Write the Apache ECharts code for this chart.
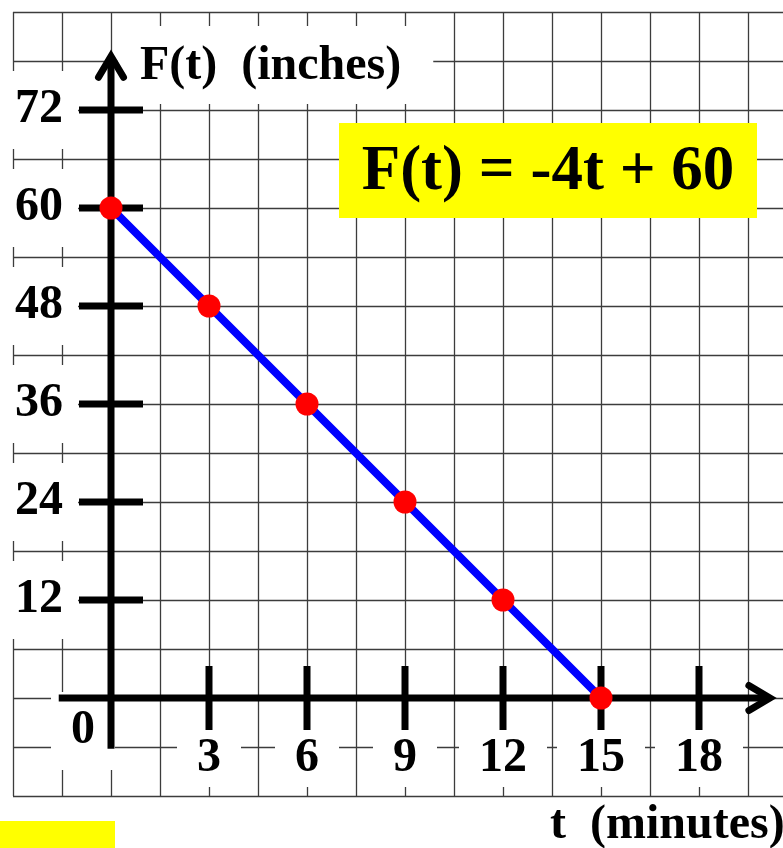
<!DOCTYPE html>
<html>
<head>
<meta charset="utf-8">
<script src="https://cdn.jsdelivr.net/npm/echarts@6/dist/echarts.min.js"></script>
<style>
  html, body { margin: 0; padding: 0; background: #fff; }
  #chart { width: 783px; height: 848px; }
</style>
</head>
<body>
<div id="chart"></div>
<script>
// Level F(t) = -4t + 60, sampled every 3 minutes
const tValues = [0, 3, 6, 9, 12, 15];
const fValues = [60, 48, 36, 24, 12, 0];

// Tick labels on each axis
const tTicks = [3, 6, 9, 12, 15, 18];
const fTicks = [12, 24, 36, 48, 60, 72];
const originLabel = '0';

// Titles
const tTitle = 't  (minutes)';
const fTitle = 'F(t)  (inches)';
const equation = 'F(t) = -4t + 60';

// Axis ranges: the graph paper extends past the drawn axes
const T_MIN = -3, T_MAX = 21, T_GRID = 1.5;
const F_MIN = -12, F_MAX = 84, F_GRID = 6;
// Where the drawn axis arrows start and end
const T_AXIS = [-1.6, 20.4];
const F_AXIS = [-6.2, 79.5];

// Plot area
const GRID = { left: 13, top: 12, width: 784, height: 784 };
// Shift the label axes from the plot edge onto the zero lines
const X_LABEL_SHIFT = -GRID.height * (0 - F_MIN) / (F_MAX - F_MIN);
const Y_LABEL_SHIFT = -GRID.width * (0 - T_MIN) / (T_MAX - T_MIN);

const SERIF = '"Liberation Serif", "Times New Roman", serif';
const FONT48 = 'bold 48px ' + SERIF;

const chart = echarts.init(document.getElementById('chart'), null, { renderer: 'canvas' });

const labelText = {
  color: '#000',
  fontFamily: SERIF,
  fontWeight: 'bold',
  fontSize: 48,
  lineHeight: 48,
  backgroundColor: '#fff'
};

const paperLine = { color: '#3c3c3c', width: 1.3 };

// Axes with arrowheads and cross ticks, laid out by the chart scales
function renderAxes(params, api) {
  const o = api.coord([0, 0]);
  const xl = api.coord([T_AXIS[0], 0]);
  const xr = api.coord([T_AXIS[1], 0]);
  const yb = api.coord([0, F_AXIS[0]]);
  const yt = api.coord([0, F_AXIS[1]]);
  const W = 7, HALF = 32, BACK = 21, SPREAD = 12.5, MITER = 7.5;
  const stroke = { stroke: '#000', lineWidth: W, fill: null, lineCap: 'butt' };
  const arm = { stroke: '#000', lineWidth: W, fill: null, lineCap: 'round', lineJoin: 'miter' };
  const kids = [];
  const xv = xr[0] - MITER;
  const yv = yt[1] + MITER;
  kids.push({ type: 'line', shape: { x1: xl[0], y1: o[1], x2: xv, y2: o[1] }, style: stroke });
  kids.push({ type: 'line', shape: { x1: o[0], y1: yb[1], x2: o[0], y2: yv }, style: stroke });
  kids.push({ type: 'polyline', shape: { points: [[xv - BACK, o[1] - SPREAD], [xv, o[1]], [xv - BACK, o[1] + SPREAD]] }, style: arm });
  kids.push({ type: 'polyline', shape: { points: [[o[0] - SPREAD, yv + BACK], [o[0], yv], [o[0] + SPREAD, yv + BACK]] }, style: arm });
  tTicks.forEach(function (t) {
    const p = api.coord([t, 0]);
    kids.push({ type: 'line', shape: { x1: p[0], y1: p[1] - HALF, x2: p[0], y2: p[1] + HALF }, style: stroke });
  });
  fTicks.forEach(function (f) {
    const p = api.coord([0, f]);
    kids.push({ type: 'line', shape: { x1: p[0] - HALF, y1: p[1], x2: p[0] + HALF, y2: p[1] }, style: stroke });
  });
  return { type: 'group', children: kids };
}

const option = {
  animation: false,
  backgroundColor: '#fff',
  grid: Object.assign({ containLabel: false, outerBoundsMode: 'none' }, GRID),
  xAxis: [
    {
      // graph paper, vertical lines
      type: 'value', position: 'top', min: T_MIN, max: T_MAX, interval: T_GRID, z: 0,
      axisLine: { show: false, onZero: false }, axisTick: { show: false }, axisLabel: { show: false },
      splitLine: { show: true, showMinLine: true, showMaxLine: true, lineStyle: paperLine }
    },
    {
      // t tick labels
      type: 'value', position: 'bottom', offset: X_LABEL_SHIFT,
      min: T_MIN, max: T_MAX, interval: 3, z: 2,
      axisLine: { show: false, onZero: false }, axisTick: { show: false },
      splitLine: { show: false },
      axisLabel: Object.assign({
        show: true, margin: 32, customValues: tTicks, padding: [5, 20, 4, 20]
      }, labelText)
    }
  ],
  yAxis: [
    {
      // graph paper, horizontal lines
      type: 'value', position: 'right', min: F_MIN, max: F_MAX, interval: F_GRID, z: 0,
      axisLine: { show: false, onZero: false }, axisTick: { show: false }, axisLabel: { show: false },
      splitLine: { show: true, showMinLine: true, showMaxLine: true, lineStyle: paperLine }
    },
    {
      // F(t) tick labels
      type: 'value', position: 'left', offset: Y_LABEL_SHIFT,
      min: F_MIN, max: F_MAX, interval: 12, z: 2,
      axisLine: { show: false, onZero: false }, axisTick: { show: false },
      splitLine: { show: false },
      axisLabel: Object.assign({
        show: true, margin: 33, customValues: fTicks, padding: [18, 15, 12, 20]
      }, labelText)
    }
  ],
  series: [
    {
      // origin label, tucked under-left of the corner
      type: 'scatter', xAxisIndex: 1, yAxisIndex: 1, z: 2, silent: true,
      data: [[0, 0]], symbolSize: 1, itemStyle: { color: '#fff', opacity: 1 },
      label: Object.assign({
        show: true, position: 'inside', offset: [-28, 33],
        formatter: originLabel, padding: [15, 20, 15, 20],
        textBorderWidth: 0, opacity: 1
      }, labelText)
    },
    {
      type: 'custom', xAxisIndex: 1, yAxisIndex: 1, z: 4, silent: true,
      data: [[0, 0]], renderItem: renderAxes
    },
    {
      type: 'line', xAxisIndex: 1, yAxisIndex: 1, z: 5, silent: true,
      data: tValues.map(function (t, i) { return [t, fValues[i]]; }),
      lineStyle: { color: '#0000ff', width: 8 },
      symbol: 'circle', symbolSize: 23, showSymbol: true,
      itemStyle: { color: '#ff0000', borderWidth: 0 }
    }
  ],
  graphic: [
    {
      type: 'text', z: 3, x: 118, y: 26, silent: true,
      style: {
        text: fTitle, font: FONT48, fill: '#000', align: 'left', verticalAlign: 'top',
        lineHeight: 48, backgroundColor: '#fff', padding: [17, 32, 13, 22]
      }
    },
    {
      type: 'rect', z: 3, silent: true,
      shape: { x: 339, y: 123, width: 418, height: 95 },
      style: { fill: '#ffff00' }
    },
    {
      type: 'text', z: 4, x: 548, y: 172.5, silent: true,
      style: {
        text: equation, font: 'bold 63px ' + SERIF, fill: '#000',
        align: 'center', verticalAlign: 'middle'
      }
    },
    {
      type: 'text', z: 3, x: 550, y: 825.5, silent: true,
      style: {
        text: tTitle, font: FONT48, fill: '#000', align: 'left', verticalAlign: 'middle', lineHeight: 48
      }
    },
    {
      type: 'rect', z: 3, silent: true,
      shape: { x: 0, y: 821, width: 115, height: 27 },
      style: { fill: '#ffff00' }
    }
  ]
};

chart.setOption(option);
</script>
</body>
</html>
